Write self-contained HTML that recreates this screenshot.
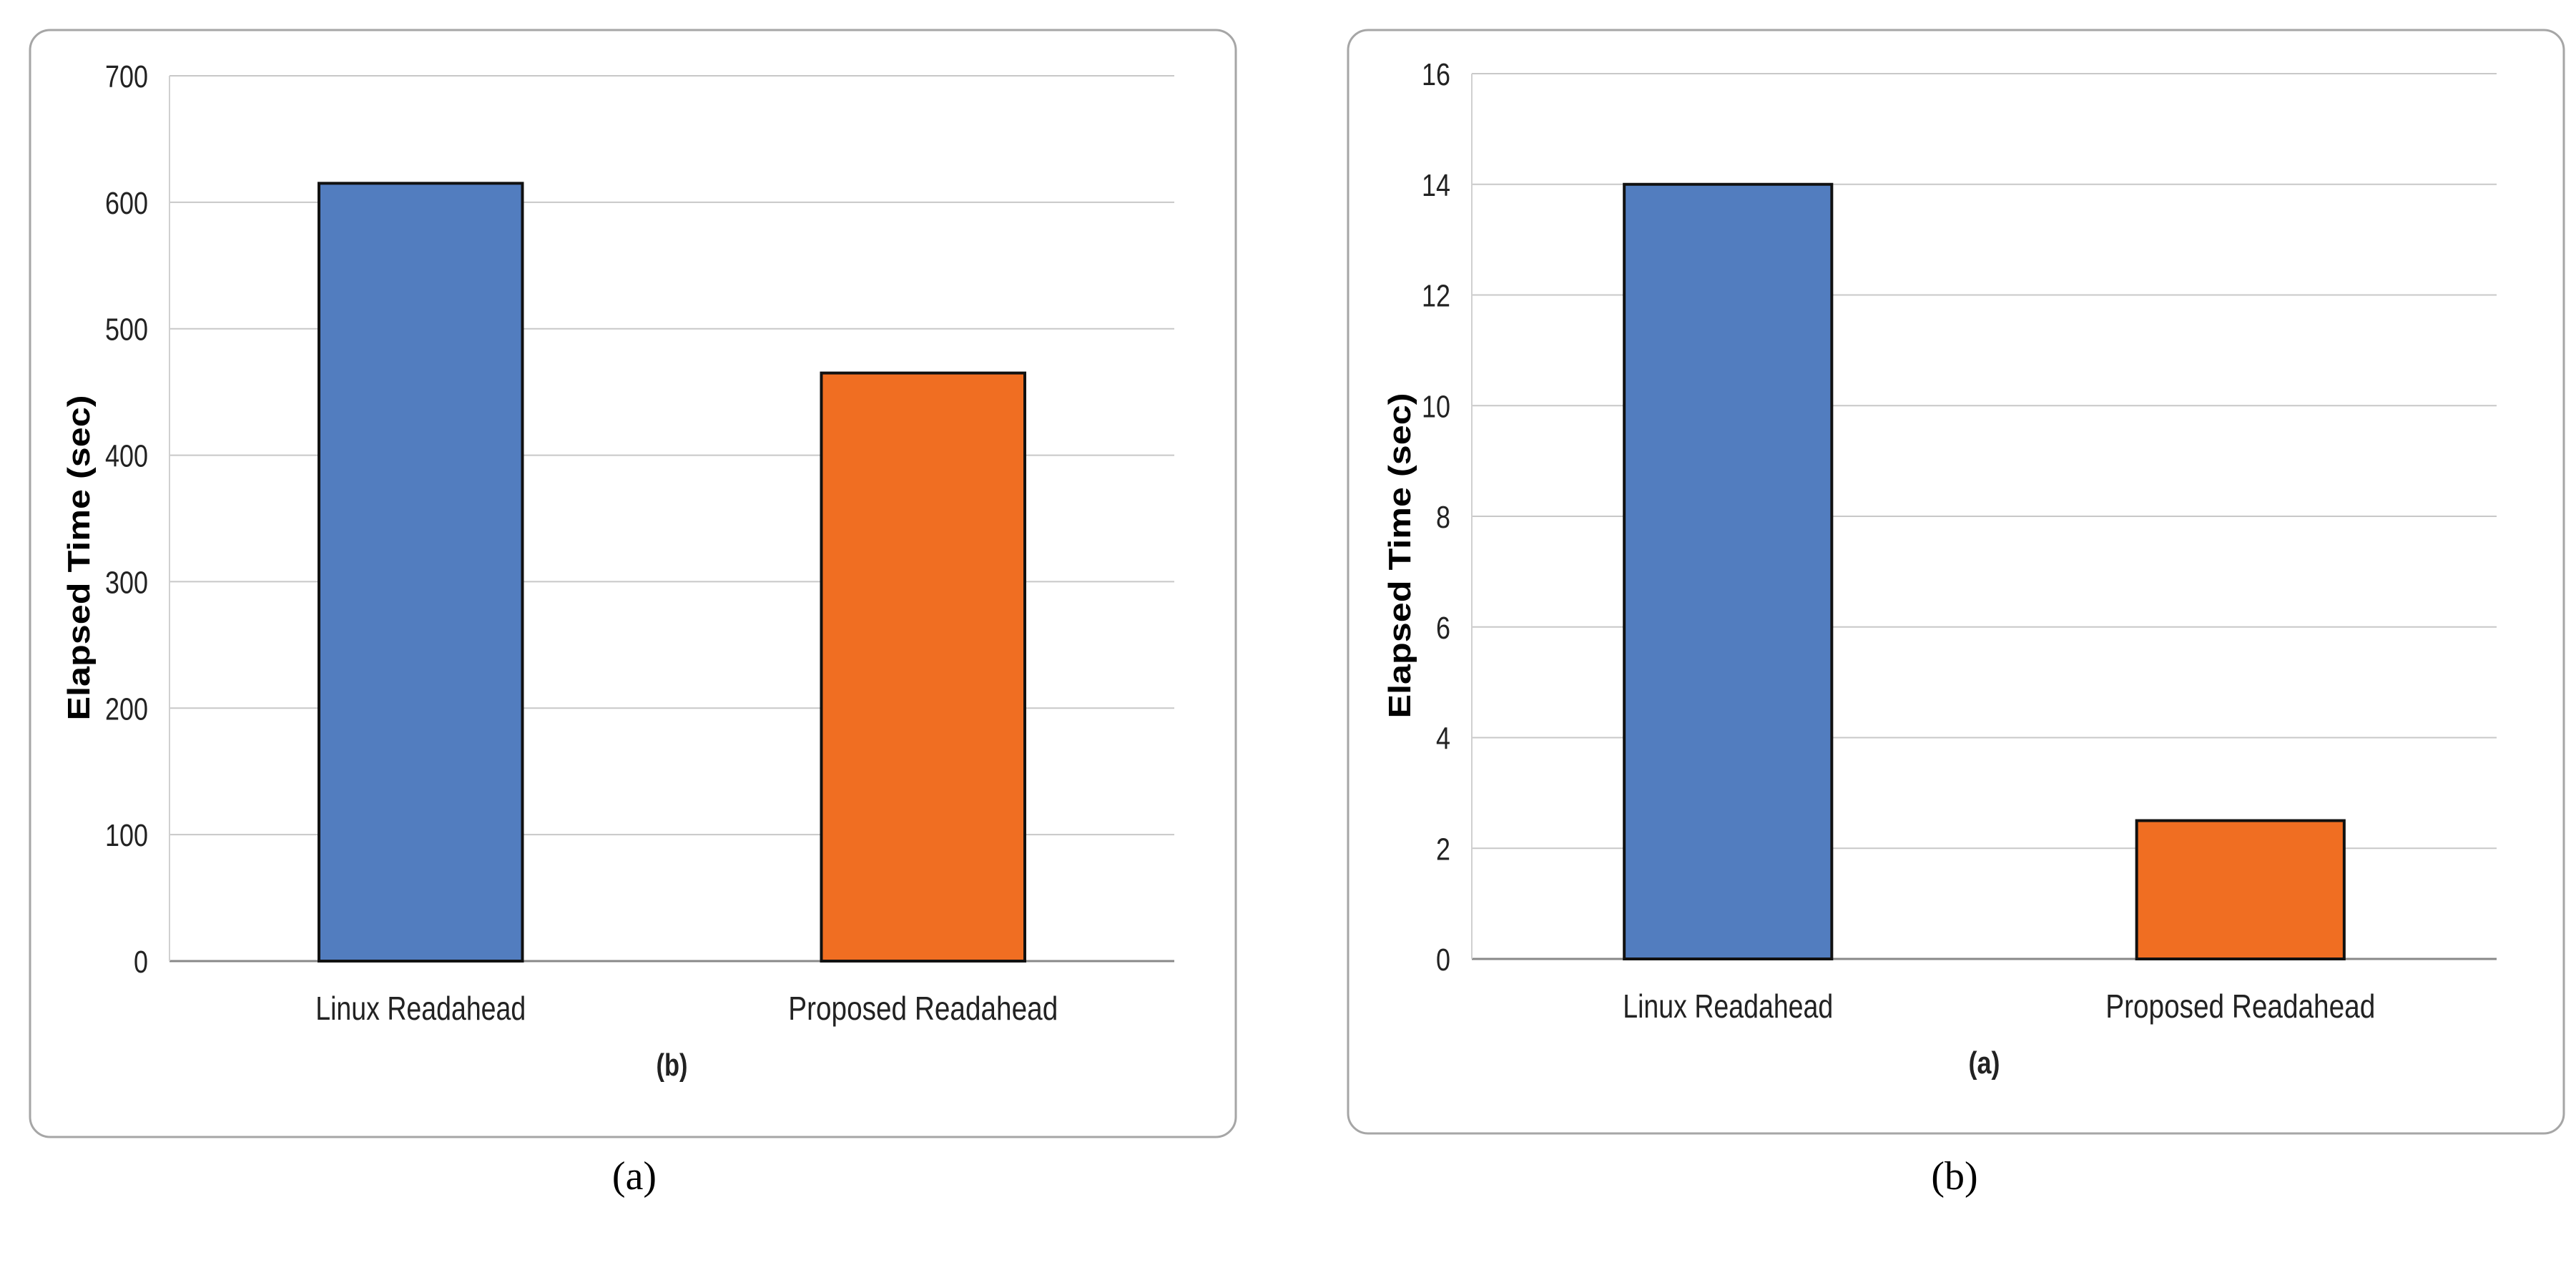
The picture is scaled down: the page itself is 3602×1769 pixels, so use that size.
<!DOCTYPE html>
<html><head><meta charset="utf-8"><style>
html,body{margin:0;padding:0;background:#fff;}
svg{display:block;}
text{font-family:"Liberation Sans Narrow","Liberation Sans",sans-serif;}
</style></head><body>
<svg id="fig" width="3602" height="1769" viewBox="0 0 3602 1769" xmlns="http://www.w3.org/2000/svg"></svg>
<script>
const categories = ["Linux Readahead", "Proposed  Readahead"];
const valuesA = [615, 465];
const ticksA = [0, 100, 200, 300, 400, 500, 600, 700];
const valuesB = [14, 2.5];
const ticksB = [0, 2, 4, 6, 8, 10, 12, 14, 16];
const colors = ["#527DBF", "#F06E22"];

const NS = "http://www.w3.org/2000/svg";
const svg = document.getElementById("fig");
const catLen = [294, 377];
function mk(tag, attrs, parent) {
  const e = document.createElementNS(NS, tag);
  for (const k in attrs) e.setAttribute(k, attrs[k]);
  (parent || svg).appendChild(e);
  return e;
}
function panel(cfg) {
  const g = mk("g", {});
  
  
  const box = mk("rect", {x: cfg.bx, y: cfg.by, width: cfg.bw, height: cfg.bh, rx: 28, fill: "#fff", stroke: "#a6a6a6", "stroke-width": 3}, g);
  
  
  const max = cfg.ticks[cfg.ticks.length - 1];
  const yS = v => cfg.y0 - (v / max) * (cfg.y0 - cfg.yTop);
  cfg.ticks.forEach(t => {
    const l = mk("line", {x1: cfg.px0, x2: cfg.px1, y1: yS(t), y2: yS(t), stroke: t === 0 ? "#888" : "#c8c8c8", "stroke-width": t === 0 ? 3 : 2}, g);
    
    
    const tx = mk("text", {x: cfg.px0 - 30, y: yS(t) + 16, "text-anchor": "end", "font-size": 44, fill: "#222", textLength: 20 * String(t).length, lengthAdjust: "spacingAndGlyphs"}, g);
    tx.textContent = t;
    
    
  });
  const ax = mk("line", {x1: cfg.px0, x2: cfg.px0, y1: cfg.yTop, y2: cfg.y0, stroke: "#d0d0d0", "stroke-width": 2}, g);
  
  
  const slot = (cfg.px1 - cfg.px0) / categories.length;
  const bw = slot * 0.405;
  cfg.values.forEach((v, i) => {
    const cx = cfg.px0 + slot * (i + 0.5);
    const r = mk("rect", {x: cx - bw / 2, y: yS(v), width: bw, height: cfg.y0 - yS(v), fill: colors[i], stroke: "#111", "stroke-width": 4}, g);
    
    
    const lb = mk("text", {x: cx, y: cfg.y0 + 82, "text-anchor": "middle", "font-size": 46, fill: "#222", textLength: catLen[i], lengthAdjust: "spacingAndGlyphs"}, g);
    lb.textContent = categories[i];
    
    
  });
  const st = mk("text", {x: (cfg.px0 + cfg.px1) / 2, y: cfg.y0 + 160, "text-anchor": "middle", "font-size": 44, "font-weight": "bold", fill: "#222", textLength: 44, lengthAdjust: "spacingAndGlyphs"}, g);
  st.textContent = cfg.sub;
  
  
  const yt = mk("text", {x: 0, y: 0, "text-anchor": "middle", "font-size": 44, "font-weight": "bold", fill: "#000", style: "font-family:'Liberation Sans',sans-serif", textLength: 455, lengthAdjust: "spacingAndGlyphs", transform: `translate(${cfg.ytx},${(cfg.yTop + cfg.y0) / 2 + 55}) rotate(-90)`}, g);
  yt.textContent = "Elapsed Time (sec)";
  
  
  const cap = mk("text", {x: cfg.capx, y: 1663, "text-anchor": "middle", "font-size": 56, fill: "#000", style: "font-family:'Liberation Serif',serif"}, g);
  cap.textContent = cfg.cap;
  
  
}
panel({name: "panel-a", bx: 42, by: 42, bw: 1686, bh: 1548, px0: 237, px1: 1642, yTop: 106, y0: 1344, ticks: ticksA, values: valuesA, sub: "(b)", ytx: 125, capx: 887, cap: "(a)"});
panel({name: "panel-b", bx: 1885, by: 42, bw: 1700, bh: 1543, px0: 2058, px1: 3491, yTop: 103, y0: 1341, ticks: ticksB, values: valuesB, sub: "(a)", ytx: 1972, capx: 2733, cap: "(b)"});
</script>
</body></html>
